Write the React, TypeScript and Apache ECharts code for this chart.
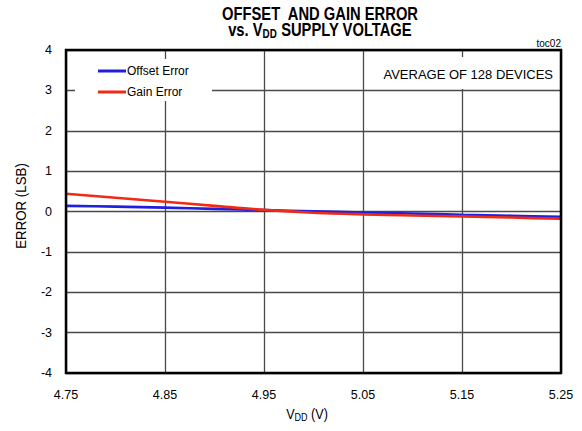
import React, { useEffect, useRef } from "react";
import * as echarts from "echarts";

const categories = ["4.75", "4.80", "4.85", "4.90", "4.95", "5.00", "5.05", "5.10", "5.15", "5.20", "5.25"];
const offsetError = [0.14, 0.12, 0.095, 0.065, 0.035, 0.005, -0.025, -0.05, -0.08, -0.105, -0.13];
const gainError = [0.44, 0.34, 0.24, 0.14, 0.04, -0.03, -0.07, -0.1, -0.12, -0.15, -0.18];
const seriesNames = ["Offset Error", "Gain Error"];
const yMin = -4;
const yMax = 4;
const yInterval = 1;

const SANS = "'Liberation Sans', Arial, sans-serif";

const GRID = { left: 66, top: 50, width: 495, height: 323 };

export default function App() {
  const ref = useRef<HTMLDivElement>(null);
  useEffect(() => {
    if (!ref.current) return;
    const chart = echarts.init(ref.current, undefined, { renderer: "svg" });
    chart.setOption({
      animation: false,
      backgroundColor: "#fff",
      grid: {
        left: GRID.left,
        top: GRID.top,
        width: GRID.width,
        height: GRID.height,
        containLabel: false,
      },
      legend: {
        orient: "vertical",
        left: 98,
        top: 65,
        padding: 0,
        itemGap: 9,
        itemWidth: 28,
        itemHeight: 3,
        icon: "rect",
        data: seriesNames,
        textStyle: { fontFamily: SANS, fontSize: 12, color: "#000", padding: [0, 0, 0, -4] },
      },
      xAxis: {
        type: "category",
        data: categories,
        boundaryGap: false,
        axisLine: { show: false },
        axisTick: { show: false },
        axisLabel: {
          interval: 1,
          margin: 15,
          fontFamily: SANS,
          fontSize: 12.5,
          color: "#000",
        },
        splitLine: { show: true, interval: 1, lineStyle: { color: "#4a4a4a", width: 1.3 } },
      },
      yAxis: {
        type: "value",
        min: yMin,
        max: yMax,
        interval: yInterval,
        axisLine: { show: false },
        axisTick: { show: false },
        axisLabel: {
          margin: 14,
          fontFamily: SANS,
          fontSize: 12.5,
          color: "#000",
        },
        splitLine: { show: true, lineStyle: { color: "#4a4a4a", width: 1.3 } },
      },
      series: [
        {
          name: seriesNames[0],
          type: "line",
          data: offsetError,
          symbol: "none",
          smooth: 0.3,
          lineStyle: { color: "#1f1fe0", width: 2.6 },
          itemStyle: { color: "#1f1fe0" },
        },
        {
          name: seriesNames[1],
          type: "line",
          data: gainError,
          symbol: "none",
          smooth: 0.3,
          lineStyle: { color: "#f02a14", width: 2.6 },
          itemStyle: { color: "#f02a14" },
        },
      ],
      graphic: [
        { type: "rect", z: 3, shape: { x: 75, y: 59, width: 137, height: 42 }, style: { fill: "#fff" } },
        { type: "rect", z: 3, shape: { x: 370, y: 57, width: 188, height: 32 }, style: { fill: "#fff" } },
        {
          type: "text",
          z: 5,
          x: 553,
          y: 74,
          style: {
            text: "AVERAGE OF 128 DEVICES",
            fontFamily: SANS,
            fontSize: 13,
            fill: "#000",
            textAlign: "right",
            textVerticalAlign: "middle",
          },
        },
        {
          type: "rect",
          z: 10,
          shape: { x: GRID.left, y: GRID.top, width: GRID.width, height: GRID.height },
          style: { fill: "none", stroke: "#000", lineWidth: 2.5 },
        },
        {
          type: "text",
          x: 561,
          y: 43,
          style: { text: "toc02", fontFamily: SANS, fontSize: 10, fill: "#000", textAlign: "right", textVerticalAlign: "middle" },
        },
        {
          type: "text",
          x: 320,
          y: 21,
          scaleX: 0.82,
          style: {
            text: "OFFSET  AND GAIN ERROR\nvs. V{sub|DD} SUPPLY VOLTAGE",
            fontFamily: SANS,
            fontWeight: "bold",
            fontSize: 18,
            lineHeight: 16,
            fill: "#000",
            textAlign: "center",
            textVerticalAlign: "middle",
            rich: {
              sub: { fontFamily: SANS, fontWeight: "bold", fontSize: 12, padding: [9, 0, 0, 0] },
            },
          },
        },
        {
          type: "text",
          x: 307,
          y: 414,
          scaleX: 0.9,
          style: {
            text: "V{sub|DD} (V)",
            fontFamily: SANS,
            fontSize: 14,
            fill: "#000",
            textAlign: "center",
            textVerticalAlign: "middle",
            rich: {
              sub: { fontFamily: SANS, fontSize: 10, padding: [7, 0, 0, 0] },
            },
          },
        },
        {
          type: "text",
          x: 21,
          y: 206,
          rotation: Math.PI / 2,
          scaleX: 0.95,
          style: {
            text: "ERROR (LSB)",
            fontFamily: SANS,
            fontSize: 14,
            fill: "#000",
            textAlign: "center",
            textVerticalAlign: "middle",
          },
        },
      ],
    });
    return () => chart.dispose();
  }, []);
  return <div ref={ref} style={{ position: "fixed", left: 0, top: 0, width: 582, height: 431 }} />;
}
